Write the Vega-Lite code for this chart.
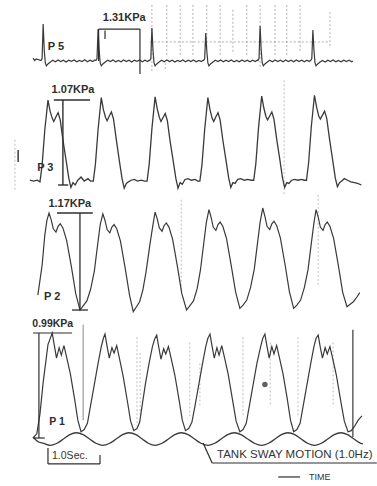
{
  "$schema": "https://vega.github.io/schema/vega-lite/v6.json",
  "padding": 0,
  "spacing": 0,
  "bounds": "flush",
  "background": "white",
  "config": {"view": {"stroke": null}},
  "datasets": {
    "p5": [
      {"t": -0.13, "v": 0.12}, {"t": -0.10, "v": 0.02}, {"t": -0.07, "v": 0.08},
      {"t": 0.02, "v": 0.02}, {"t": 0.04, "v": 0.10}, {"t": 0.06, "v": 1.52}, {"t": 0.08, "v": 0.45}, {"t": 0.10, "v": -0.08}, {"t": 0.12, "v": -0.20}, {"t": 0.15, "v": -0.12}, {"t": 0.19, "v": -0.05}, {"t": 0.24, "v": 0.03}, {"t": 0.29, "v": -0.03}, {"t": 0.34, "v": 0.04}, {"t": 0.39, "v": -0.02}, {"t": 0.44, "v": 0.03}, {"t": 0.49, "v": -0.04}, {"t": 0.54, "v": 0.03}, {"t": 0.59, "v": -0.01}, {"t": 0.64, "v": 0.04}, {"t": 0.69, "v": -0.03}, {"t": 0.74, "v": 0.02}, {"t": 0.79, "v": -0.02}, {"t": 0.84, "v": 0.05}, {"t": 0.89, "v": -0.03}, {"t": 0.94, "v": 0.03}, {"t": 0.99, "v": -0.02}, {"t": 1.03, "v": 0.04},
      {"t": 1.05, "v": 0.02}, {"t": 1.07, "v": 0.10}, {"t": 1.09, "v": 1.31}, {"t": 1.11, "v": 0.45}, {"t": 1.13, "v": -0.08}, {"t": 1.15, "v": -0.20}, {"t": 1.18, "v": -0.12}, {"t": 1.22, "v": -0.05}, {"t": 1.27, "v": 0.03}, {"t": 1.32, "v": -0.02}, {"t": 1.37, "v": 0.04}, {"t": 1.42, "v": -0.03}, {"t": 1.47, "v": 0.02}, {"t": 1.52, "v": -0.03}, {"t": 1.57, "v": 0.04}, {"t": 1.62, "v": -0.02}, {"t": 1.67, "v": 0.03}, {"t": 1.72, "v": -0.04}, {"t": 1.77, "v": 0.03}, {"t": 1.82, "v": -0.01}, {"t": 1.87, "v": 0.04}, {"t": 1.92, "v": -0.03}, {"t": 1.97, "v": 0.03}, {"t": 2.02, "v": -0.02}, {"t": 2.05, "v": 0.03},
      {"t": 2.06, "v": 0.02}, {"t": 2.08, "v": 0.10}, {"t": 2.10, "v": 1.35}, {"t": 2.12, "v": 0.45}, {"t": 2.14, "v": -0.08}, {"t": 2.16, "v": -0.20}, {"t": 2.19, "v": -0.12}, {"t": 2.23, "v": -0.05}, {"t": 2.28, "v": 0.03}, {"t": 2.33, "v": -0.03}, {"t": 2.38, "v": 0.04}, {"t": 2.43, "v": -0.02}, {"t": 2.48, "v": 0.03}, {"t": 2.53, "v": -0.04}, {"t": 2.58, "v": 0.02}, {"t": 2.63, "v": -0.02}, {"t": 2.68, "v": 0.04}, {"t": 2.73, "v": -0.03}, {"t": 2.78, "v": 0.03}, {"t": 2.83, "v": -0.02}, {"t": 2.88, "v": 0.04}, {"t": 2.93, "v": -0.03}, {"t": 2.98, "v": 0.02}, {"t": 3.03, "v": -0.02}, {"t": 3.06, "v": 0.03},
      {"t": 3.07, "v": 0.02}, {"t": 3.09, "v": 0.10}, {"t": 3.11, "v": 1.15}, {"t": 3.13, "v": 0.40}, {"t": 3.15, "v": -0.08}, {"t": 3.17, "v": -0.20}, {"t": 3.20, "v": -0.12}, {"t": 3.24, "v": -0.05}, {"t": 3.29, "v": 0.03}, {"t": 3.34, "v": -0.02}, {"t": 3.39, "v": 0.04}, {"t": 3.44, "v": -0.03}, {"t": 3.49, "v": 0.03}, {"t": 3.54, "v": -0.02}, {"t": 3.59, "v": 0.04}, {"t": 3.64, "v": -0.03}, {"t": 3.69, "v": 0.02}, {"t": 3.74, "v": -0.03}, {"t": 3.79, "v": 0.04}, {"t": 3.84, "v": -0.02}, {"t": 3.89, "v": 0.03}, {"t": 3.94, "v": -0.03}, {"t": 3.99, "v": 0.03}, {"t": 4.04, "v": -0.02}, {"t": 4.08, "v": 0.04},
      {"t": 4.09, "v": 0.02}, {"t": 4.11, "v": 0.10}, {"t": 4.13, "v": 1.43}, {"t": 4.15, "v": 0.45}, {"t": 4.17, "v": -0.08}, {"t": 4.19, "v": -0.20}, {"t": 4.22, "v": -0.12}, {"t": 4.26, "v": -0.05}, {"t": 4.31, "v": 0.03}, {"t": 4.36, "v": -0.03}, {"t": 4.41, "v": 0.04}, {"t": 4.46, "v": -0.02}, {"t": 4.51, "v": 0.03}, {"t": 4.56, "v": -0.03}, {"t": 4.61, "v": 0.04}, {"t": 4.66, "v": -0.02}, {"t": 4.71, "v": 0.03}, {"t": 4.76, "v": -0.03}, {"t": 4.81, "v": 0.04}, {"t": 4.86, "v": -0.02}, {"t": 4.91, "v": 0.03}, {"t": 4.96, "v": -0.03}, {"t": 5.01, "v": 0.03}, {"t": 5.05, "v": -0.02}, {"t": 5.08, "v": 0.03},
      {"t": 5.10, "v": 0.10}, {"t": 5.12, "v": 1.27}, {"t": 5.14, "v": 0.45}, {"t": 5.16, "v": -0.08}, {"t": 5.18, "v": -0.20}, {"t": 5.21, "v": -0.12}, {"t": 5.25, "v": -0.05}, {"t": 5.30, "v": 0.02}, {"t": 5.35, "v": -0.04}, {"t": 5.40, "v": 0.03}, {"t": 5.45, "v": -0.02}, {"t": 5.50, "v": 0.04}, {"t": 5.55, "v": -0.03}, {"t": 5.60, "v": 0.02}, {"t": 5.65, "v": -0.03}, {"t": 5.70, "v": 0.03}, {"t": 5.75, "v": -0.02}, {"t": 5.80, "v": 0.03}, {"t": 5.85, "v": -0.03}, {"t": 5.87, "v": 0.00}
    ],
    "p3": [
      {"t": -0.19, "v": 0.06}, {"t": -0.12, "v": 0.05}, {"t": -0.05, "v": 0.06},
      {"t": 0.00, "v": 0.04}, {"t": 0.04, "v": 0.25}, {"t": 0.09, "v": 0.69}, {"t": 0.15, "v": 1.07}, {"t": 0.19, "v": 0.93}, {"t": 0.23, "v": 0.84}, {"t": 0.26, "v": 0.80}, {"t": 0.30, "v": 0.86}, {"t": 0.34, "v": 0.91}, {"t": 0.38, "v": 0.82}, {"t": 0.43, "v": 0.57}, {"t": 0.49, "v": 0.31}, {"t": 0.54, "v": 0.09}, {"t": 0.58, "v": -0.03}, {"t": 0.62, "v": 0.03}, {"t": 0.66, "v": 0.00}, {"t": 0.71, "v": 0.06}, {"t": 0.77, "v": 0.10}, {"t": 0.83, "v": 0.05}, {"t": 0.90, "v": 0.08}, {"t": 0.95, "v": 0.05},
      {"t": 1.00, "v": 0.05}, {"t": 1.04, "v": 0.26}, {"t": 1.09, "v": 0.70}, {"t": 1.15, "v": 1.10}, {"t": 1.19, "v": 0.95}, {"t": 1.23, "v": 0.85}, {"t": 1.26, "v": 0.81}, {"t": 1.30, "v": 0.87}, {"t": 1.34, "v": 0.92}, {"t": 1.38, "v": 0.83}, {"t": 1.43, "v": 0.58}, {"t": 1.49, "v": 0.30}, {"t": 1.54, "v": 0.08}, {"t": 1.58, "v": -0.04}, {"t": 1.62, "v": 0.02}, {"t": 1.66, "v": 0.04}, {"t": 1.71, "v": 0.06}, {"t": 1.77, "v": 0.07}, {"t": 1.83, "v": 0.05}, {"t": 1.90, "v": 0.06}, {"t": 1.96, "v": 0.05},
      {"t": 2.01, "v": 0.05}, {"t": 2.05, "v": 0.27}, {"t": 2.10, "v": 0.71}, {"t": 2.16, "v": 1.11}, {"t": 2.20, "v": 0.96}, {"t": 2.24, "v": 0.85}, {"t": 2.27, "v": 0.80}, {"t": 2.31, "v": 0.85}, {"t": 2.35, "v": 0.90}, {"t": 2.39, "v": 0.81}, {"t": 2.44, "v": 0.56}, {"t": 2.50, "v": 0.30}, {"t": 2.55, "v": 0.08}, {"t": 2.59, "v": -0.04}, {"t": 2.63, "v": 0.03}, {"t": 2.67, "v": 0.01}, {"t": 2.72, "v": 0.07}, {"t": 2.78, "v": 0.08}, {"t": 2.84, "v": 0.06}, {"t": 2.91, "v": 0.07}, {"t": 2.96, "v": 0.05},
      {"t": 3.00, "v": 0.05}, {"t": 3.04, "v": 0.26}, {"t": 3.09, "v": 0.70}, {"t": 3.15, "v": 1.10}, {"t": 3.19, "v": 0.95}, {"t": 3.23, "v": 0.84}, {"t": 3.26, "v": 0.80}, {"t": 3.30, "v": 0.86}, {"t": 3.34, "v": 0.91}, {"t": 3.38, "v": 0.82}, {"t": 3.43, "v": 0.57}, {"t": 3.49, "v": 0.31}, {"t": 3.54, "v": 0.09}, {"t": 3.58, "v": -0.03}, {"t": 3.62, "v": 0.03}, {"t": 3.66, "v": 0.02}, {"t": 3.71, "v": 0.07}, {"t": 3.77, "v": 0.08}, {"t": 3.83, "v": 0.06}, {"t": 3.90, "v": 0.07}, {"t": 3.96, "v": 0.06},
      {"t": 4.01, "v": 0.06}, {"t": 4.05, "v": 0.27}, {"t": 4.10, "v": 0.72}, {"t": 4.16, "v": 1.12}, {"t": 4.20, "v": 0.97}, {"t": 4.24, "v": 0.86}, {"t": 4.27, "v": 0.82}, {"t": 4.31, "v": 0.87}, {"t": 4.35, "v": 0.92}, {"t": 4.39, "v": 0.83}, {"t": 4.44, "v": 0.58}, {"t": 4.50, "v": 0.32}, {"t": 4.55, "v": 0.09}, {"t": 4.59, "v": -0.03}, {"t": 4.63, "v": 0.03}, {"t": 4.67, "v": 0.02}, {"t": 4.72, "v": 0.06}, {"t": 4.78, "v": 0.07}, {"t": 4.84, "v": 0.06}, {"t": 4.91, "v": 0.07}, {"t": 4.96, "v": 0.06},
      {"t": 5.00, "v": 0.06}, {"t": 5.04, "v": 0.28}, {"t": 5.09, "v": 0.73}, {"t": 5.15, "v": 1.13}, {"t": 5.19, "v": 0.98}, {"t": 5.23, "v": 0.87}, {"t": 5.26, "v": 0.83}, {"t": 5.30, "v": 0.88}, {"t": 5.34, "v": 0.93}, {"t": 5.38, "v": 0.84}, {"t": 5.43, "v": 0.59}, {"t": 5.49, "v": 0.32}, {"t": 5.54, "v": 0.09}, {"t": 5.58, "v": -0.02}, {"t": 5.62, "v": 0.03}, {"t": 5.66, "v": 0.05}, {"t": 5.71, "v": 0.08}, {"t": 5.77, "v": 0.06}, {"t": 5.83, "v": 0.04}, {"t": 5.90, "v": 0.03}, {"t": 5.96, "v": 0.02}, {"t": 6.03, "v": 0.00}
    ],
    "p2": [
      {"t": -0.04, "v": 0.18}, {"t": 0.04, "v": 0.54}, {"t": 0.09, "v": 0.90}, {"t": 0.13, "v": 1.08},
      {"t": 0.17, "v": 1.17}, {"t": 0.21, "v": 1.09}, {"t": 0.25, "v": 0.98}, {"t": 0.30, "v": 0.94}, {"t": 0.34, "v": 1.01}, {"t": 0.38, "v": 1.04}, {"t": 0.43, "v": 0.99}, {"t": 0.50, "v": 0.84}, {"t": 0.59, "v": 0.52}, {"t": 0.67, "v": 0.20}, {"t": 0.75, "v": 0.00}, {"t": 0.81, "v": 0.05}, {"t": 0.88, "v": 0.11}, {"t": 0.95, "v": 0.25}, {"t": 1.02, "v": 0.47}, {"t": 1.08, "v": 0.78}, {"t": 1.13, "v": 1.03},
      {"t": 1.18, "v": 1.16}, {"t": 1.22, "v": 1.08}, {"t": 1.26, "v": 0.97}, {"t": 1.31, "v": 0.93}, {"t": 1.35, "v": 1.00}, {"t": 1.39, "v": 1.03}, {"t": 1.44, "v": 0.98}, {"t": 1.51, "v": 0.83}, {"t": 1.60, "v": 0.50}, {"t": 1.68, "v": 0.18}, {"t": 1.75, "v": -0.02}, {"t": 1.81, "v": 0.04}, {"t": 1.87, "v": 0.10}, {"t": 1.93, "v": 0.24}, {"t": 1.99, "v": 0.46}, {"t": 2.06, "v": 0.78}, {"t": 2.12, "v": 1.03},
      {"t": 2.16, "v": 1.18}, {"t": 2.20, "v": 1.10}, {"t": 2.24, "v": 0.99}, {"t": 2.29, "v": 0.95}, {"t": 2.33, "v": 1.02}, {"t": 2.37, "v": 1.05}, {"t": 2.42, "v": 1.00}, {"t": 2.49, "v": 0.85}, {"t": 2.58, "v": 0.52}, {"t": 2.66, "v": 0.20}, {"t": 2.75, "v": 0.00}, {"t": 2.81, "v": 0.05}, {"t": 2.88, "v": 0.11}, {"t": 2.95, "v": 0.26}, {"t": 3.01, "v": 0.48}, {"t": 3.07, "v": 0.79}, {"t": 3.12, "v": 1.05},
      {"t": 3.17, "v": 1.21}, {"t": 3.21, "v": 1.12}, {"t": 3.25, "v": 1.00}, {"t": 3.30, "v": 0.96}, {"t": 3.34, "v": 1.03}, {"t": 3.38, "v": 1.06}, {"t": 3.43, "v": 1.01}, {"t": 3.50, "v": 0.86}, {"t": 3.59, "v": 0.53}, {"t": 3.67, "v": 0.22}, {"t": 3.75, "v": 0.02}, {"t": 3.81, "v": 0.06}, {"t": 3.88, "v": 0.12}, {"t": 3.95, "v": 0.27}, {"t": 4.02, "v": 0.49}, {"t": 4.08, "v": 0.80}, {"t": 4.13, "v": 1.06},
      {"t": 4.18, "v": 1.23}, {"t": 4.22, "v": 1.13}, {"t": 4.26, "v": 1.01}, {"t": 4.31, "v": 0.97}, {"t": 4.35, "v": 1.04}, {"t": 4.39, "v": 1.07}, {"t": 4.44, "v": 1.02}, {"t": 4.51, "v": 0.87}, {"t": 4.60, "v": 0.54}, {"t": 4.68, "v": 0.22}, {"t": 4.76, "v": 0.02}, {"t": 4.82, "v": 0.06}, {"t": 4.89, "v": 0.12}, {"t": 4.96, "v": 0.27}, {"t": 5.03, "v": 0.49}, {"t": 5.09, "v": 0.80}, {"t": 5.14, "v": 1.05},
      {"t": 5.18, "v": 1.21}, {"t": 5.22, "v": 1.12}, {"t": 5.26, "v": 1.00}, {"t": 5.31, "v": 0.96}, {"t": 5.35, "v": 1.03}, {"t": 5.39, "v": 1.06}, {"t": 5.44, "v": 1.01}, {"t": 5.51, "v": 0.86}, {"t": 5.60, "v": 0.53}, {"t": 5.68, "v": 0.21}, {"t": 5.76, "v": 0.04}, {"t": 5.82, "v": 0.07}, {"t": 5.88, "v": 0.10}, {"t": 5.95, "v": 0.16}, {"t": 6.00, "v": 0.21}
    ],
    "p1": [
      {"t": -0.13, "v": -0.01}, {"t": -0.06, "v": 0.03}, {"t": 0.00, "v": 0.22}, {"t": 0.06, "v": 0.52}, {"t": 0.15, "v": 0.88},
      {"t": 0.23, "v": 0.99}, {"t": 0.27, "v": 0.87}, {"t": 0.31, "v": 0.75}, {"t": 0.36, "v": 0.85}, {"t": 0.40, "v": 0.78}, {"t": 0.45, "v": 0.87}, {"t": 0.50, "v": 0.76}, {"t": 0.57, "v": 0.60}, {"t": 0.65, "v": 0.36}, {"t": 0.71, "v": 0.16}, {"t": 0.77, "v": 0.05}, {"t": 0.83, "v": 0.07}, {"t": 0.89, "v": 0.13}, {"t": 0.95, "v": 0.30}, {"t": 1.02, "v": 0.50}, {"t": 1.09, "v": 0.70}, {"t": 1.15, "v": 0.86}, {"t": 1.19, "v": 0.94},
      {"t": 1.22, "v": 0.98}, {"t": 1.26, "v": 0.86}, {"t": 1.30, "v": 0.75}, {"t": 1.35, "v": 0.85}, {"t": 1.39, "v": 0.80}, {"t": 1.44, "v": 0.87}, {"t": 1.49, "v": 0.75}, {"t": 1.56, "v": 0.58}, {"t": 1.64, "v": 0.34}, {"t": 1.70, "v": 0.15}, {"t": 1.76, "v": 0.06}, {"t": 1.82, "v": 0.08}, {"t": 1.87, "v": 0.14}, {"t": 1.92, "v": 0.31}, {"t": 1.98, "v": 0.51}, {"t": 2.05, "v": 0.71}, {"t": 2.11, "v": 0.86}, {"t": 2.15, "v": 0.93},
      {"t": 2.19, "v": 0.97}, {"t": 2.23, "v": 0.85}, {"t": 2.27, "v": 0.74}, {"t": 2.32, "v": 0.84}, {"t": 2.36, "v": 0.79}, {"t": 2.41, "v": 0.86}, {"t": 2.46, "v": 0.75}, {"t": 2.53, "v": 0.59}, {"t": 2.61, "v": 0.35}, {"t": 2.67, "v": 0.16}, {"t": 2.73, "v": 0.06}, {"t": 2.79, "v": 0.08}, {"t": 2.85, "v": 0.14}, {"t": 2.91, "v": 0.30}, {"t": 2.98, "v": 0.50}, {"t": 3.05, "v": 0.70}, {"t": 3.11, "v": 0.86}, {"t": 3.15, "v": 0.94},
      {"t": 3.19, "v": 0.98}, {"t": 3.23, "v": 0.86}, {"t": 3.27, "v": 0.75}, {"t": 3.32, "v": 0.85}, {"t": 3.36, "v": 0.78}, {"t": 3.41, "v": 0.87}, {"t": 3.46, "v": 0.76}, {"t": 3.53, "v": 0.60}, {"t": 3.61, "v": 0.36}, {"t": 3.68, "v": 0.15}, {"t": 3.75, "v": 0.05}, {"t": 3.81, "v": 0.07}, {"t": 3.87, "v": 0.13}, {"t": 3.93, "v": 0.30}, {"t": 4.00, "v": 0.50}, {"t": 4.07, "v": 0.70}, {"t": 4.14, "v": 0.86}, {"t": 4.18, "v": 0.94},
      {"t": 4.22, "v": 0.98}, {"t": 4.26, "v": 0.86}, {"t": 4.30, "v": 0.75}, {"t": 4.35, "v": 0.86}, {"t": 4.39, "v": 0.79}, {"t": 4.44, "v": 0.87}, {"t": 4.49, "v": 0.76}, {"t": 4.56, "v": 0.60}, {"t": 4.64, "v": 0.36}, {"t": 4.70, "v": 0.16}, {"t": 4.76, "v": 0.05}, {"t": 4.82, "v": 0.07}, {"t": 4.88, "v": 0.13}, {"t": 4.94, "v": 0.30}, {"t": 5.01, "v": 0.50}, {"t": 5.08, "v": 0.70}, {"t": 5.14, "v": 0.86}, {"t": 5.18, "v": 0.94},
      {"t": 5.22, "v": 0.97}, {"t": 5.26, "v": 0.85}, {"t": 5.30, "v": 0.75}, {"t": 5.35, "v": 0.85}, {"t": 5.39, "v": 0.79}, {"t": 5.44, "v": 0.86}, {"t": 5.49, "v": 0.75}, {"t": 5.56, "v": 0.59}, {"t": 5.64, "v": 0.35}, {"t": 5.71, "v": 0.15}, {"t": 5.78, "v": 0.05}, {"t": 5.84, "v": 0.06}, {"t": 5.90, "v": 0.10}, {"t": 5.97, "v": 0.16}, {"t": 6.04, "v": 0.20}
    ],
    "sway": [
      {"t": -0.13, "v": 0.00}, {"t": -0.05, "v": -0.04}, {"t": 0.07, "v": -0.062},
      {"t": 0.19, "v": -0.08}, {"t": 0.31, "v": -0.062}, {"t": 0.44, "v": -0.02}, {"t": 0.56, "v": 0.022}, {"t": 0.68, "v": 0.04}, {"t": 0.81, "v": 0.022}, {"t": 0.93, "v": -0.02}, {"t": 1.06, "v": -0.062},
      {"t": 1.18, "v": -0.08}, {"t": 1.30, "v": -0.062}, {"t": 1.43, "v": -0.02}, {"t": 1.55, "v": 0.022}, {"t": 1.67, "v": 0.04}, {"t": 1.80, "v": 0.022}, {"t": 1.92, "v": -0.02}, {"t": 2.04, "v": -0.062},
      {"t": 2.16, "v": -0.08}, {"t": 2.28, "v": -0.062}, {"t": 2.41, "v": -0.02}, {"t": 2.53, "v": 0.022}, {"t": 2.65, "v": 0.04}, {"t": 2.78, "v": 0.022}, {"t": 2.90, "v": -0.02}, {"t": 3.03, "v": -0.062},
      {"t": 3.15, "v": -0.08}, {"t": 3.27, "v": -0.062}, {"t": 3.40, "v": -0.02}, {"t": 3.52, "v": 0.022}, {"t": 3.65, "v": 0.04}, {"t": 3.77, "v": 0.022}, {"t": 3.90, "v": -0.02}, {"t": 4.03, "v": -0.062},
      {"t": 4.16, "v": -0.08}, {"t": 4.28, "v": -0.062}, {"t": 4.41, "v": -0.02}, {"t": 4.53, "v": 0.022}, {"t": 4.65, "v": 0.04}, {"t": 4.78, "v": 0.022}, {"t": 4.90, "v": -0.02}, {"t": 5.03, "v": -0.062},
      {"t": 5.15, "v": -0.08}, {"t": 5.27, "v": -0.062}, {"t": 5.40, "v": -0.02}, {"t": 5.52, "v": 0.022}, {"t": 5.64, "v": 0.04}, {"t": 5.77, "v": 0.022}, {"t": 5.89, "v": -0.02}, {"t": 6.02, "v": -0.062}, {"t": 6.06, "v": -0.066}
    ],
    "seg5": [
      {"t": 1.10, "t2": 1.876, "v": 1.31, "v2": 1.31, "kind": "ink"},
      {"t": 1.10, "t2": 1.10, "v": 1.31, "v2": 0.0, "kind": "ink"},
      {"t": 1.876, "t2": 1.876, "v": 1.31, "v2": -0.53, "kind": "ink"},
      {"t": 1.22, "t2": 1.22, "v": 1.25, "v2": 0.90, "kind": "ink"},
      {"t": 2.10, "t2": 2.10, "v": 2.30, "v2": -0.45, "kind": "grid"},
      {"t": 2.35, "t2": 2.35, "v": -0.08, "v2": -0.37, "kind": "grid"},
      {"t": 2.38, "t2": 2.38, "v": 2.30, "v2": 0.25, "kind": "grid"},
      {"t": 2.63, "t2": 2.63, "v": 2.30, "v2": 0.25, "kind": "grid"},
      {"t": 2.87, "t2": 2.87, "v": 2.30, "v2": 0.20, "kind": "grid"},
      {"t": 3.13, "t2": 3.13, "v": 2.30, "v2": 0.60, "kind": "grid"},
      {"t": 3.38, "t2": 3.38, "v": 2.30, "v2": 0.25, "kind": "grid"},
      {"t": 3.62, "t2": 3.62, "v": 2.10, "v2": 0.30, "kind": "grid"},
      {"t": 3.88, "t2": 3.88, "v": 2.30, "v2": 0.25, "kind": "grid"},
      {"t": 4.13, "t2": 4.13, "v": 2.30, "v2": -0.30, "kind": "grid"},
      {"t": 4.41, "t2": 4.41, "v": 2.30, "v2": 0.25, "kind": "grid"},
      {"t": 4.63, "t2": 4.63, "v": 2.30, "v2": 0.25, "kind": "grid"},
      {"t": 4.88, "t2": 4.88, "v": 2.30, "v2": 0.40, "kind": "grid"},
      {"t": 5.44, "t2": 5.44, "v": 2.00, "v2": 0.60, "kind": "grid"},
      {"t": 2.06, "t2": 5.44, "v": 0.78, "v2": 0.78, "kind": "grid"}
    ],
    "seg3": [
      {"t": 0.26, "t2": 0.94, "v": 1.07, "v2": 1.07, "kind": "ink"},
      {"t": 0.43, "t2": 0.43, "v": 1.07, "v2": 0.0, "kind": "ink"},
      {"t": 0.34, "t2": 0.53, "v": 0.0, "v2": 0.0, "kind": "ink"},
      {"t": -0.41, "t2": -0.41, "v": 0.44, "v2": 0.29, "kind": "ink"},
      {"t": -0.47, "t2": -0.47, "v": 0.57, "v2": -0.06, "kind": "grid"},
      {"t": 4.58, "t2": 4.58, "v": 1.32, "v2": -0.12, "kind": "grid"}
    ],
    "seg2": [
      {"t": 0.32, "t2": 0.99, "v": 1.17, "v2": 1.17, "kind": "ink"},
      {"t": 0.75, "t2": 0.75, "v": 1.17, "v2": 0.0, "kind": "ink"},
      {"t": 0.60, "t2": 0.90, "v": 0.0, "v2": 0.0, "kind": "ink"},
      {"t": 2.65, "t2": 2.65, "v": 1.33, "v2": 0.24, "kind": "grid"},
      {"t": 5.22, "t2": 5.22, "v": 1.39, "v2": 0.30, "kind": "grid"}
    ],
    "seg1": [
      {"t": -0.13, "t2": 0.60, "v": 0.99, "v2": 0.99, "kind": "ink"},
      {"t": -0.02, "t2": -0.02, "v": 0.99, "v2": -0.01, "kind": "ink"},
      {"t": -0.13, "t2": 0.09, "v": -0.01, "v2": -0.01, "kind": "ink"},
      {"t": 0.15, "t2": 0.15, "v": -0.105, "v2": -0.257, "kind": "ink"},
      {"t": 0.15, "t2": 1.126, "v": -0.257, "v2": -0.257, "kind": "ink"},
      {"t": 1.126, "t2": 1.126, "v": -0.171, "v2": -0.257, "kind": "ink"},
      {"t": 3.06, "t2": 3.23, "v": -0.057, "v2": -0.248, "kind": "ink"},
      {"t": 3.23, "t2": 6.32, "v": -0.248, "v2": -0.248, "kind": "ink"},
      {"t": 4.47, "t2": 4.88, "v": -0.381, "v2": -0.381, "kind": "ink"},
      {"t": 0.81, "t2": 0.81, "v": 1.07, "v2": 0.16, "kind": "marker"},
      {"t": 5.87, "t2": 5.87, "v": 1.02, "v2": 0.0, "kind": "event"},
      {"t": 1.82, "t2": 1.82, "v": 0.95, "v2": 0.10, "kind": "grid"},
      {"t": 1.88, "t2": 1.88, "v": 0.80, "v2": 0.20, "kind": "grid"},
      {"t": 2.81, "t2": 2.81, "v": 0.90, "v2": 0.20, "kind": "grid"},
      {"t": 3.00, "t2": 3.00, "v": 0.70, "v2": 0.30, "kind": "grid"},
      {"t": 3.81, "t2": 3.81, "v": 0.95, "v2": 0.20, "kind": "grid"},
      {"t": 4.32, "t2": 4.32, "v": 0.90, "v2": 0.30, "kind": "grid"},
      {"t": 4.84, "t2": 4.84, "v": 0.95, "v2": 0.20, "kind": "grid"},
      {"t": 5.50, "t2": 5.50, "v": 0.90, "v2": 0.30, "kind": "grid"}
    ],
    "lab5": [
      {"t": 1.58, "v": 1.76, "label": "1.31KPa"},
      {"t": 0.30, "v": 0.57, "label": "P 5"}
    ],
    "lab3": [
      {"t": 0.62, "v": 1.20, "label": "1.07KPa"},
      {"t": 0.10, "v": 0.21, "label": "P 3"}
    ],
    "lab2": [
      {"t": 0.56, "v": 1.28, "label": "1.17KPa"},
      {"t": 0.23, "v": 0.16, "label": "P 2"}
    ],
    "lab1": [
      {"t": 0.24, "v": 1.08, "label": "0.99KPa"},
      {"t": 0.32, "v": 0.14, "label": "P 1"}
    ],
    "notes1": [
      {"t": 0.56, "v": -0.18, "label": "1.0Sec.", "role": "timebar"},
      {"t": 4.78, "v": -0.171, "label": "TANK SWAY MOTION (1.0Hz)", "role": "sway"},
      {"t": 5.25, "v": -0.381, "label": "TIME", "role": "axis"}
    ],
    "blot1": [
      {"t": 4.22, "v": 0.50}
    ]
  },
  "vconcat": [
    {
      "width": 377,
      "height": 78,
      "encoding": {
        "x": {"field": "t", "type": "quantitative", "scale": {"domain": [-0.75, 6.323], "nice": false, "zero": false}, "axis": null},
        "y": {"field": "v", "type": "quantitative", "scale": {"domain": [-0.697, 2.5], "nice": false, "zero": false}, "axis": null}
      },
      "layer": [
        {"data": {"name": "seg5"}, "transform": [{"filter": "datum.kind == 'grid'"}], "mark": {"type": "rule", "stroke": "#7a7a7a", "strokeWidth": 0.8, "strokeDash": [2, 2], "opacity": 0.75}, "encoding": {"x2": {"field": "t2"}, "y2": {"field": "v2"}}},
        {"data": {"name": "p5"}, "mark": {"type": "line", "stroke": "#3a3a3a", "strokeWidth": 1.2}},
        {"data": {"name": "seg5"}, "transform": [{"filter": "datum.kind == 'ink'"}], "mark": {"type": "rule", "stroke": "#2e2e2e", "strokeWidth": 1.2}, "encoding": {"x2": {"field": "t2"}, "y2": {"field": "v2"}}},
        {"data": {"name": "lab5"}, "mark": {"type": "text", "font": "Liberation Sans", "fontSize": 11, "fontWeight": "bold", "fill": "#2e2e2e", "align": "center", "baseline": "middle"}, "encoding": {"text": {"field": "label"}}}
      ]
    },
    {
      "width": 377,
      "height": 117,
      "encoding": {
        "x": {"field": "t", "type": "quantitative", "scale": {"domain": [-0.75, 6.323], "nice": false, "zero": false}, "axis": null},
        "y": {"field": "v", "type": "quantitative", "scale": {"domain": [-0.126, 1.348], "nice": false, "zero": false}, "axis": null}
      },
      "layer": [
        {"data": {"name": "seg3"}, "transform": [{"filter": "datum.kind == 'grid'"}], "mark": {"type": "rule", "stroke": "#7a7a7a", "strokeWidth": 0.8, "strokeDash": [2, 2], "opacity": 0.6}, "encoding": {"x2": {"field": "t2"}, "y2": {"field": "v2"}}},
        {"data": {"name": "p3"}, "mark": {"type": "line", "stroke": "#3a3a3a", "strokeWidth": 1.3}},
        {"data": {"name": "seg3"}, "transform": [{"filter": "datum.kind == 'ink'"}], "mark": {"type": "rule", "stroke": "#2e2e2e", "strokeWidth": 1.4}, "encoding": {"x2": {"field": "t2"}, "y2": {"field": "v2"}}},
        {"data": {"name": "lab3"}, "mark": {"type": "text", "font": "Liberation Sans", "fontSize": 11, "fontWeight": "bold", "fill": "#2e2e2e", "align": "center", "baseline": "middle"}, "encoding": {"text": {"field": "label"}}}
      ]
    },
    {
      "width": 377,
      "height": 119,
      "encoding": {
        "x": {"field": "t", "type": "quantitative", "scale": {"domain": [-0.75, 6.323], "nice": false, "zero": false}, "axis": null},
        "y": {"field": "v", "type": "quantitative", "scale": {"domain": [-0.048, 1.387], "nice": false, "zero": false}, "axis": null}
      },
      "layer": [
        {"data": {"name": "seg2"}, "transform": [{"filter": "datum.kind == 'grid'"}], "mark": {"type": "rule", "stroke": "#7a7a7a", "strokeWidth": 0.8, "strokeDash": [2, 2], "opacity": 0.6}, "encoding": {"x2": {"field": "t2"}, "y2": {"field": "v2"}}},
        {"data": {"name": "p2"}, "mark": {"type": "line", "stroke": "#3a3a3a", "strokeWidth": 1.2}},
        {"data": {"name": "seg2"}, "transform": [{"filter": "datum.kind == 'ink'"}], "mark": {"type": "rule", "stroke": "#2e2e2e", "strokeWidth": 1.3}, "encoding": {"x2": {"field": "t2"}, "y2": {"field": "v2"}}},
        {"data": {"name": "lab2"}, "mark": {"type": "text", "font": "Liberation Sans", "fontSize": 11, "fontWeight": "bold", "fill": "#2e2e2e", "align": "center", "baseline": "middle"}, "encoding": {"text": {"field": "label"}}}
      ]
    },
    {
      "width": 377,
      "height": 172,
      "encoding": {
        "x": {"field": "t", "type": "quantitative", "scale": {"domain": [-0.75, 6.323], "nice": false, "zero": false}, "axis": null},
        "y": {"field": "v", "type": "quantitative", "scale": {"domain": [-0.467, 1.171], "nice": false, "zero": false}, "axis": null}
      },
      "layer": [
        {"data": {"name": "seg1"}, "transform": [{"filter": "datum.kind == 'grid'"}], "mark": {"type": "rule", "stroke": "#7a7a7a", "strokeWidth": 0.8, "strokeDash": [2, 2], "opacity": 0.6}, "encoding": {"x2": {"field": "t2"}, "y2": {"field": "v2"}}},
        {"data": {"name": "seg1"}, "transform": [{"filter": "datum.kind == 'marker'"}], "mark": {"type": "rule", "stroke": "#8a8a8a", "strokeWidth": 1.0}, "encoding": {"x2": {"field": "t2"}, "y2": {"field": "v2"}}},
        {"data": {"name": "seg1"}, "transform": [{"filter": "datum.kind == 'event'"}], "mark": {"type": "rule", "stroke": "#555555", "strokeWidth": 1.4}, "encoding": {"x2": {"field": "t2"}, "y2": {"field": "v2"}}},
        {"data": {"name": "sway"}, "mark": {"type": "line", "stroke": "#3a3a3a", "strokeWidth": 1.3, "interpolate": "monotone"}},
        {"data": {"name": "p1"}, "mark": {"type": "line", "stroke": "#3a3a3a", "strokeWidth": 1.2}},
        {"data": {"name": "blot1"}, "mark": {"type": "point", "filled": true, "fill": "#444444", "size": 30, "opacity": 0.85}},
        {"data": {"name": "seg1"}, "transform": [{"filter": "datum.kind == 'ink'"}], "mark": {"type": "rule", "stroke": "#2e2e2e", "strokeWidth": 1.2}, "encoding": {"x2": {"field": "t2"}, "y2": {"field": "v2"}}},
        {"data": {"name": "lab1"}, "mark": {"type": "text", "font": "Liberation Sans", "fontSize": 10.5, "fontWeight": "bold", "fill": "#2e2e2e", "align": "center", "baseline": "middle"}, "encoding": {"text": {"field": "label"}}},
        {"data": {"name": "notes1"}, "transform": [{"filter": "datum.role == 'timebar'"}], "mark": {"type": "text", "font": "Liberation Sans", "fontSize": 10.5, "fill": "#333333", "align": "center", "baseline": "middle"}, "encoding": {"text": {"field": "label"}}},
        {"data": {"name": "notes1"}, "transform": [{"filter": "datum.role == 'sway'"}], "mark": {"type": "text", "font": "Liberation Sans", "fontSize": 11.5, "fill": "#333333", "align": "center", "baseline": "middle"}, "encoding": {"text": {"field": "label"}}},
        {"data": {"name": "notes1"}, "transform": [{"filter": "datum.role == 'axis'"}], "mark": {"type": "text", "font": "Liberation Sans", "fontSize": 9, "fill": "#333333", "align": "center", "baseline": "middle"}, "encoding": {"text": {"field": "label"}}}
      ]
    }
  ]
}
